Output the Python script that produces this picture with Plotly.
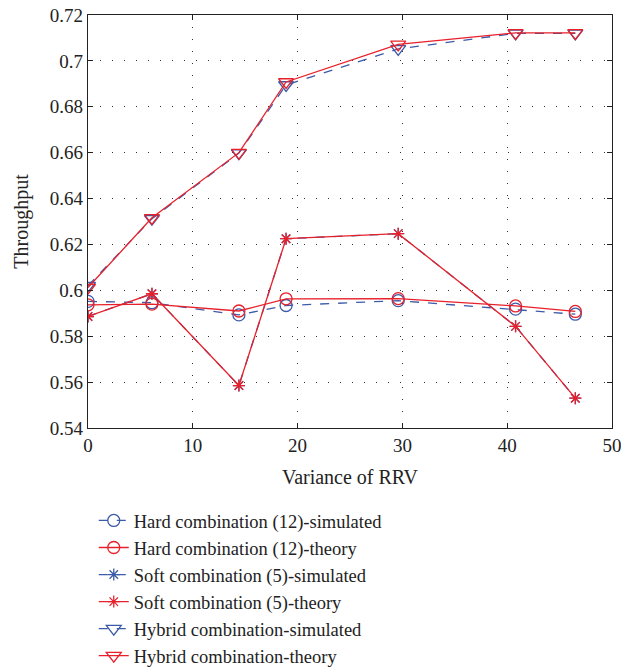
import plotly.graph_objects as go

x_vals = [0, 6.1, 14.4, 18.9, 29.6, 40.8, 46.5]
hard_sim = [0.5952, 0.5946, 0.5893, 0.5934, 0.5955, 0.5918, 0.5896]
hard_theory = [0.5937, 0.5940, 0.5910, 0.5963, 0.5964, 0.5932, 0.5908]
soft_sim = [0.5886, 0.5985, 0.5585, 0.6225, 0.6247, 0.5843, 0.5530]
soft_theory = [0.5886, 0.5985, 0.5585, 0.6225, 0.6247, 0.5843, 0.5530]
hybrid_sim = [0.6020, 0.6312, 0.6598, 0.6895, 0.7052, 0.7120, 0.7120]
hybrid_theory = [0.6012, 0.6316, 0.6600, 0.6908, 0.7072, 0.7122, 0.7122]

names = ["Hard combination (12)-simulated", "Hard combination (12)-theory",
         "Soft combination (5)-simulated", "Soft combination (5)-theory",
         "Hybrid combination-simulated", "Hybrid combination-theory"]

x_ticks = [0, 10, 20, 30, 40, 50]
y_ticks = [0.54, 0.56, 0.58, 0.6, 0.62, 0.64, 0.66, 0.68, 0.7, 0.72]
y_tick_text = ["0.54", "0.56", "0.58", "0.6", "0.62", "0.64", "0.66", "0.68", "0.7", "0.72"]

BLUE = "#3b5aa8"
RED = "#e8202a"

series = [
    (hard_sim, BLUE, "dash", "circle-open", 12),
    (hard_theory, RED, "solid", "circle-open", 12),
    (soft_sim, BLUE, "dash", "asterisk-open", 10),
    (soft_theory, RED, "solid", "asterisk-open", 10),
    (hybrid_sim, BLUE, "dash", "triangle-down-open", 13),
    (hybrid_theory, RED, "solid", "triangle-down-open", 13),
]

fig = go.Figure()
for i, (ys, col, dash, sym, sz) in enumerate(series):
    fig.add_trace(go.Scatter(
        x=x_vals, y=ys, name=names[i], mode="lines+markers",
        line=dict(color=col, width=1.3, dash=dash),
        marker=dict(symbol=sym, size=sz, color=col, line=dict(color=col, width=1.3)),
    ))

font = "Liberation Serif, Times New Roman, serif"
grid = dict(showgrid=True, gridcolor="#333", griddash="1px,11px", gridwidth=1.3,
            showline=True, linecolor="#222", linewidth=1.3, mirror="ticks",
            ticks="inside", ticklen=5, tickcolor="#222", zeroline=False,
            automargin=False, tickfont=dict(size=19), ticklabeloverflow="allow")
fig.update_layout(
    width=621, height=667,
    margin=dict(l=88, r=9, t=15, b=239, autoexpand=False),
    paper_bgcolor="white", plot_bgcolor="white",
    font=dict(family=font, size=19, color="#222"),
    showlegend=True,
    legend=dict(x=0.011, y=-0.179, xanchor="left", yanchor="top",
                font=dict(size=18.5, family=font),
                bgcolor="rgba(0,0,0,0)"),
    xaxis=dict(range=[0, 50], tickvals=x_ticks,
               title=dict(text="Variance of RRV", font=dict(size=20)), **grid),
    yaxis=dict(range=[0.54, 0.72], tickvals=y_ticks, ticktext=y_tick_text,
               title=dict(text="Throughput", font=dict(size=20)), **grid),
)
# remove the page's default body margin so the figure fills the window exactly
fig.write_html("out.html", config={"displayModeBar": False},
               post_script="document.body.style.margin='0';document.body.style.overflow='hidden';")
